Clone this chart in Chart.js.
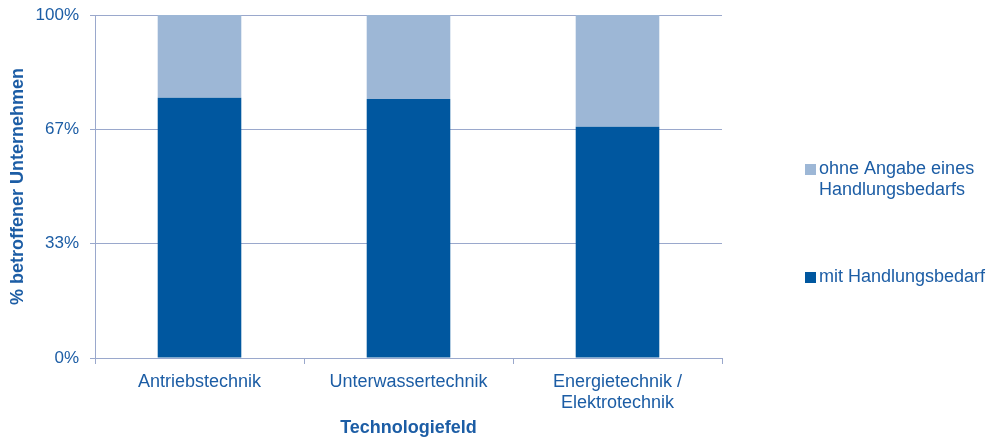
<!DOCTYPE html>
<html>
<head>
<meta charset="utf-8">
<script src="https://cdn.jsdelivr.net/npm/chart.js@4/dist/chart.umd.min.js"></script>
<style>
    html, body { margin: 0; padding: 0; background: #fff; }
    #wrap { width: 987px; height: 439px; }
</style>
</head>
<body>
<div id="wrap"><canvas id="techChart" width="987" height="439"></canvas></div>
<script>
// ========== Daten ==========
const categories = ['Antriebstechnik', 'Unterwassertechnik', ['Energietechnik /', 'Elektrotechnik']];
const mitBedarf = [75.9, 75.5, 67.4];
const ohneAngabe = [24.1, 24.5, 32.6];
const yTickValues = [0, 33.333, 66.667, 100];
const yTickLabels = ['0%', '33%', '67%', '100%'];
const legendMit = ['mit Handlungsbedarf'];
const legendOhne = ['ohne Angabe eines', 'Handlungsbedarfs'];

const textColor = '#1C5DA5';
const gridColor = '#9AA8CC';
const fontFamily = "'Liberation Sans', Arial, sans-serif";

// rechte Legende, selbst gezeichnet (mehrzeilige Einträge)
const sideLegend = {
    id: 'sideLegend',
    afterDraw(chart) {
        const ctx = chart.ctx;
        const items = [
            { lines: legendOhne, color: chart.data.datasets[1].backgroundColor, top: 164 },
            { lines: legendMit, color: chart.data.datasets[0].backgroundColor, top: 272 }
        ];
        ctx.save();
        ctx.font = '18px ' + fontFamily;
        ctx.textBaseline = 'middle';
        ctx.textAlign = 'left';
        items.forEach(item => {
            ctx.fillStyle = item.color;
            ctx.fillRect(805, item.top, 11, 11);
            ctx.fillStyle = textColor;
            item.lines.forEach((line, i) => {
                ctx.fillText(line, 819, item.top + 5 + i * 21);
            });
        });
        ctx.restore();
    }
};

const ctx = document.getElementById('techChart').getContext('2d');
new Chart(ctx, {
    type: 'bar',
    data: {
        labels: categories,
        datasets: [
            {
                label: legendMit.join(' '),
                data: mitBedarf,
                backgroundColor: '#00579F',
                borderWidth: 0,
                barPercentage: 0.4,
                categoryPercentage: 1.0
            },
            {
                label: legendOhne.join(' '),
                data: ohneAngabe,
                backgroundColor: '#9DB7D6',
                borderWidth: 0,
                barPercentage: 0.4,
                categoryPercentage: 1.0
            }
        ]
    },
    options: {
        responsive: false,
        animation: false,
        layout: { padding: { top: 15, right: 265, bottom: 0, left: 0 } },
        plugins: {
            legend: { display: false },
            tooltip: { enabled: false }
        },
        scales: {
            x: {
                stacked: true,
                afterFit(scale) {
                    scale.height = 81;
                },
                grid: {
                    display: true,
                    drawOnChartArea: false,
                    offset: true,
                    tickLength: 6,
                    color: gridColor
                },
                border: { display: true, color: gridColor },
                ticks: {
                    color: textColor,
                    padding: 8,
                    maxRotation: 0,
                    font: { family: fontFamily, size: 18, lineHeight: 1.15 }
                },
                title: {
                    display: true,
                    text: 'Technologiefeld',
                    color: textColor,
                    padding: { top: 4, bottom: 0 },
                    font: { family: fontFamily, size: 18, weight: 'bold', lineHeight: 1.2 }
                }
            },
            y: {
                stacked: true,
                min: 0,
                max: 100,
                afterBuildTicks(scale) {
                    scale.ticks = yTickValues.map(v => ({ value: v }));
                },
                afterFit(scale) {
                    scale.width = 95;
                    scale.paddingTop = 0;
                    scale.paddingBottom = 0;
                },
                grid: { color: gridColor, tickLength: 5 },
                border: { display: true, color: gridColor },
                ticks: {
                    color: textColor,
                    padding: 11,
                    font: { family: fontFamily, size: 17 },
                    callback: (value, index) => yTickLabels[index]
                },
                title: {
                    display: true,
                    text: '% betroffener Unternehmen',
                    color: textColor,
                    padding: { top: 7, bottom: 0 },
                    font: { family: fontFamily, size: 18, weight: 'bold', lineHeight: 1.2 }
                }
            }
        }
    },
    plugins: [sideLegend]
});
</script>
</body>
</html>
